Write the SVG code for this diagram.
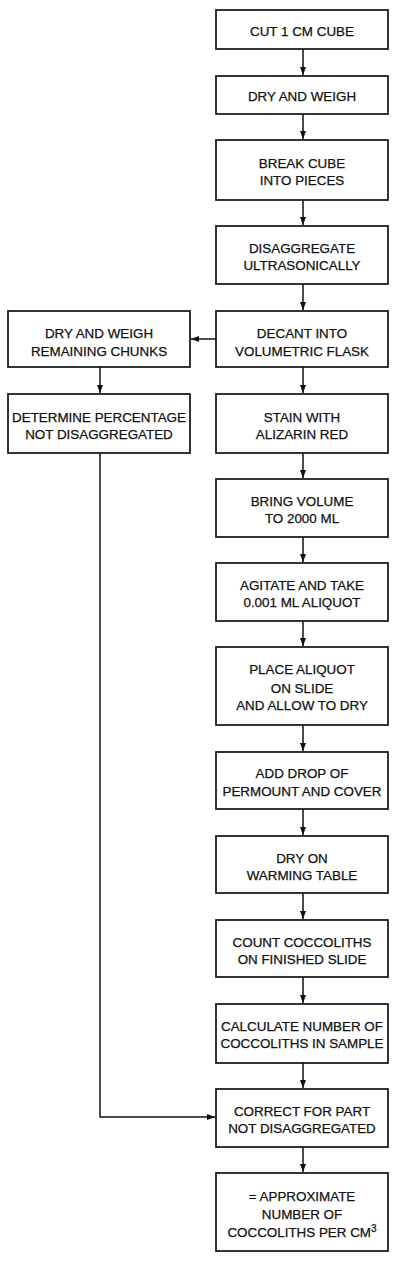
<svg xmlns="http://www.w3.org/2000/svg" width="400" height="1262" viewBox="0 0 400 1262">
<defs>
<style>
.box{fill:#fff;stroke:#111;stroke-width:1.7}
.t{font-family:"Liberation Sans",Arial,sans-serif;font-size:13.4px;fill:#111;stroke:#111;stroke-width:0.25;text-anchor:middle}
.c{fill:none;stroke:#111;stroke-width:1.5}
</style>
<marker id="ah" markerWidth="9" markerHeight="7" refX="8" refY="3" orient="auto" markerUnits="userSpaceOnUse">
<path d="M0,0 L8,3 L0,6 z" fill="#111"/>
</marker>
</defs>
<rect width="400" height="1262" fill="#fff"/>
<g id="connectors" class="c">
<line x1="303" y1="49" x2="303" y2="75" marker-end="url(#ah)"/>
<line x1="303" y1="114" x2="303" y2="139" marker-end="url(#ah)"/>
<line x1="303" y1="200" x2="303" y2="225" marker-end="url(#ah)"/>
<line x1="303" y1="284" x2="303" y2="310" marker-end="url(#ah)"/>
<line x1="303" y1="367" x2="303" y2="393" marker-end="url(#ah)"/>
<line x1="303" y1="453" x2="303" y2="478" marker-end="url(#ah)"/>
<line x1="303" y1="537" x2="303" y2="562" marker-end="url(#ah)"/>
<line x1="303" y1="621" x2="303" y2="646" marker-end="url(#ah)"/>
<line x1="303" y1="725" x2="303" y2="751" marker-end="url(#ah)"/>
<line x1="303" y1="809" x2="303" y2="835" marker-end="url(#ah)"/>
<line x1="303" y1="893" x2="303" y2="919" marker-end="url(#ah)"/>
<line x1="303" y1="977" x2="303" y2="1003" marker-end="url(#ah)"/>
<line x1="303" y1="1063" x2="303" y2="1088" marker-end="url(#ah)"/>
<line x1="303" y1="1147" x2="303" y2="1172" marker-end="url(#ah)"/>
<line x1="216" y1="339" x2="191" y2="339" marker-end="url(#ah)"/>
<line x1="100" y1="367" x2="100" y2="393" marker-end="url(#ah)"/>
<polyline points="100,453 100,1117 215,1117" marker-end="url(#ah)"/>
</g>
<g id="n1"><rect class="box" x="216" y="10" width="172" height="39"/><text class="t" x="302" y="36">CUT 1 CM CUBE</text></g>
<g id="n2"><rect class="box" x="216" y="76" width="172" height="38"/><text class="t" x="302" y="100.5">DRY AND WEIGH</text></g>
<g id="n3"><rect class="box" x="216" y="140" width="172" height="60"/><text class="t" x="302" y="168">BREAK CUBE</text><text class="t" x="302" y="185">INTO PIECES</text></g>
<g id="n4"><rect class="box" x="216" y="226" width="172" height="58"/><text class="t" x="302" y="252.7">DISAGGREGATE</text><text class="t" x="302" y="270">ULTRASONICALLY</text></g>
<g id="n5"><rect class="box" x="216" y="311" width="172" height="56"/><text class="t" x="302" y="338">DECANT INTO</text><text class="t" x="302" y="355.5">VOLUMETRIC FLASK</text></g>
<g id="l1"><rect class="box" x="8" y="311" width="182" height="56"/><text class="t" x="99" y="338">DRY AND WEIGH</text><text class="t" x="99" y="355.5">REMAINING CHUNKS</text></g>
<g id="n6"><rect class="box" x="216" y="394" width="172" height="59"/><text class="t" x="302" y="421.7">STAIN WITH</text><text class="t" x="302" y="439">ALIZARIN RED</text></g>
<g id="l2"><rect class="box" x="8" y="394" width="182" height="59"/><text class="t" x="99" y="421.7">DETERMINE PERCENTAGE</text><text class="t" x="99" y="439">NOT DISAGGREGATED</text></g>
<g id="n7"><rect class="box" x="216" y="479" width="172" height="58"/><text class="t" x="302" y="505.7">BRING VOLUME</text><text class="t" x="302" y="523.3">TO 2000 ML</text></g>
<g id="n8"><rect class="box" x="216" y="563" width="172" height="58"/><text class="t" x="302" y="590">AGITATE AND TAKE</text><text class="t" x="302" y="607">0.001 ML ALIQUOT</text></g>
<g id="n9"><rect class="box" x="216" y="647" width="172" height="78"/><text class="t" x="302" y="674.3">PLACE ALIQUOT</text><text class="t" x="302" y="692.5">ON SLIDE</text><text class="t" x="302" y="710.3">AND ALLOW TO DRY</text></g>
<g id="n10"><rect class="box" x="216" y="752" width="172" height="57"/><text class="t" x="302" y="778.3">ADD DROP OF</text><text class="t" x="302" y="796">PERMOUNT AND COVER</text></g>
<g id="n11"><rect class="box" x="216" y="836" width="172" height="57"/><text class="t" x="302" y="863.3">DRY ON</text><text class="t" x="302" y="880">WARMING TABLE</text></g>
<g id="n12"><rect class="box" x="216" y="920" width="172" height="57"/><text class="t" x="302" y="946.7">COUNT COCCOLITHS</text><text class="t" x="302" y="964.3">ON FINISHED SLIDE</text></g>
<g id="n13"><rect class="box" x="216" y="1004" width="172" height="59"/><text class="t" x="302" y="1031">CALCULATE NUMBER OF</text><text class="t" x="302" y="1048.3">COCCOLITHS IN SAMPLE</text></g>
<g id="n14"><rect class="box" x="216" y="1089" width="172" height="58"/><text class="t" x="302" y="1116">CORRECT FOR PART</text><text class="t" x="302" y="1133.3">NOT DISAGGREGATED</text></g>
<g id="n15"><rect class="box" x="216" y="1173" width="172" height="78"/><text class="t" x="302" y="1201">= APPROXIMATE</text><text class="t" x="302" y="1218.7">NUMBER OF</text><text class="t" x="302" y="1237">COCCOLITHS PER CM<tspan font-size="10" dy="-5">3</tspan></text></g>
</svg>
